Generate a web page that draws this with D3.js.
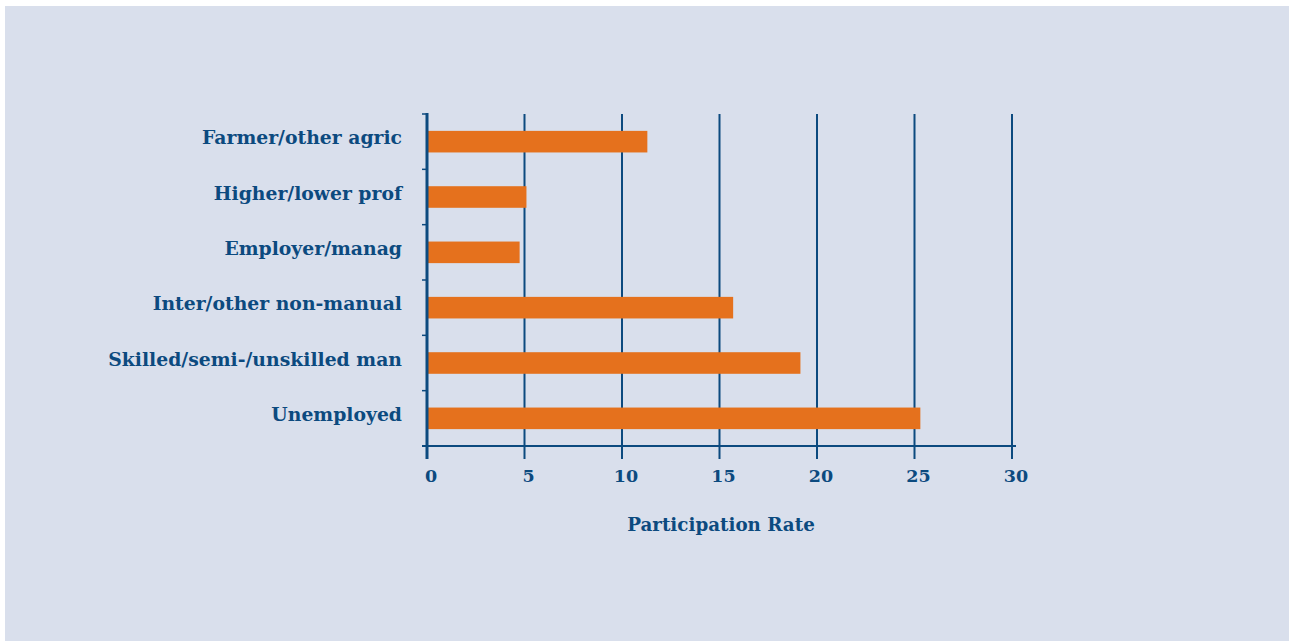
<!DOCTYPE html>
<html>
<head>
<meta charset="utf-8">
<script src="https://cdn.jsdelivr.net/npm/d3@7"></script>
<style>
  html, body { margin: 0; padding: 0; background: #fff; }
  svg { display: block; }
  text { font-family: "DejaVu Serif", serif; font-weight: bold; fill: #0c4a7f; }
</style>
</head>
<body>
<svg id="chart" width="1289" height="641"></svg>
<script>
// Participation rate by social class
const categories = [
  'Farmer/other agric',
  'Higher/lower prof',
  'Employer/manag',
  'Inter/other non-manual',
  'Skilled/semi-/unskilled man',
  'Unemployed'
];
const rates = [11.3, 5.1, 4.75, 15.7, 19.15, 25.3];
const xTicks = [0, 5, 10, 15, 20, 25, 30];

const blue = '#0c4a7f';
const orange = '#e5711d';

const svg = d3.select('#chart');

// Panel background
svg.append('rect')
  .attr('x', 5).attr('y', 6)
  .attr('width', 1284).attr('height', 635)
  .attr('fill', '#d9dfec');

const plotL = 427, plotR = 1012, plotT = 114, plotB = 446;

const x = d3.scaleLinear().domain([0, 30]).range([plotL, plotR]);
const y = d3.scaleBand().domain(categories).range([plotT, plotB]).paddingInner(0.61).paddingOuter(0.305);

const g = svg.append('g');

// Vertical grid lines
g.selectAll('.grid')
  .data(xTicks.slice(1))
  .join('line')
  .attr('x1', d => x(d)).attr('x2', d => x(d))
  .attr('y1', plotT).attr('y2', plotB + 13)
  .attr('stroke', blue).attr('stroke-width', 2);

// Bars
g.selectAll('.bar')
  .data(categories)
  .join('rect')
  .attr('x', plotL)
  .attr('y', d => y(d))
  .attr('width', (d, i) => x(rates[i]) - plotL)
  .attr('height', y.bandwidth())
  .attr('fill', orange);

// Bottom axis line
g.append('line')
  .attr('x1', plotL - 5).attr('x2', plotR + 4)
  .attr('y1', plotB).attr('y2', plotB)
  .attr('stroke', blue).attr('stroke-width', 2);

// Category separator ticks on left
const sepY = d3.range(categories.length).map(i => plotT + i * (plotB - plotT) / categories.length);
g.selectAll('.sep')
  .data(sepY)
  .join('line')
  .attr('x1', plotL - 5).attr('x2', plotL)
  .attr('y1', d => d).attr('y2', d => d)
  .attr('stroke', blue).attr('stroke-width', 1.5);

// Left axis line
g.append('line')
  .attr('x1', plotL).attr('x2', plotL)
  .attr('y1', plotT - 1).attr('y2', plotB + 13)
  .attr('stroke', blue).attr('stroke-width', 3);

// Category labels
g.selectAll('.cat')
  .data(categories)
  .join('text')
  .attr('x', 402)
  .attr('y', d => y(d) + y.bandwidth() / 2 - 4)
  .attr('dy', '0.35em')
  .attr('text-anchor', 'end')
  .attr('font-size', 18.8)
  .text(d => d);

// Tick labels
g.selectAll('.tick')
  .data(xTicks)
  .join('text')
  .attr('x', d => x(d) + 4)
  .attr('y', 482)
  .attr('text-anchor', 'middle')
  .attr('font-size', 17.5)
  .text(d => d);

// Axis title
g.append('text')
  .attr('x', 721).attr('y', 531)
  .attr('text-anchor', 'middle')
  .attr('font-size', 18.3)
  .text('Participation Rate');
</script>
</body>
</html>
